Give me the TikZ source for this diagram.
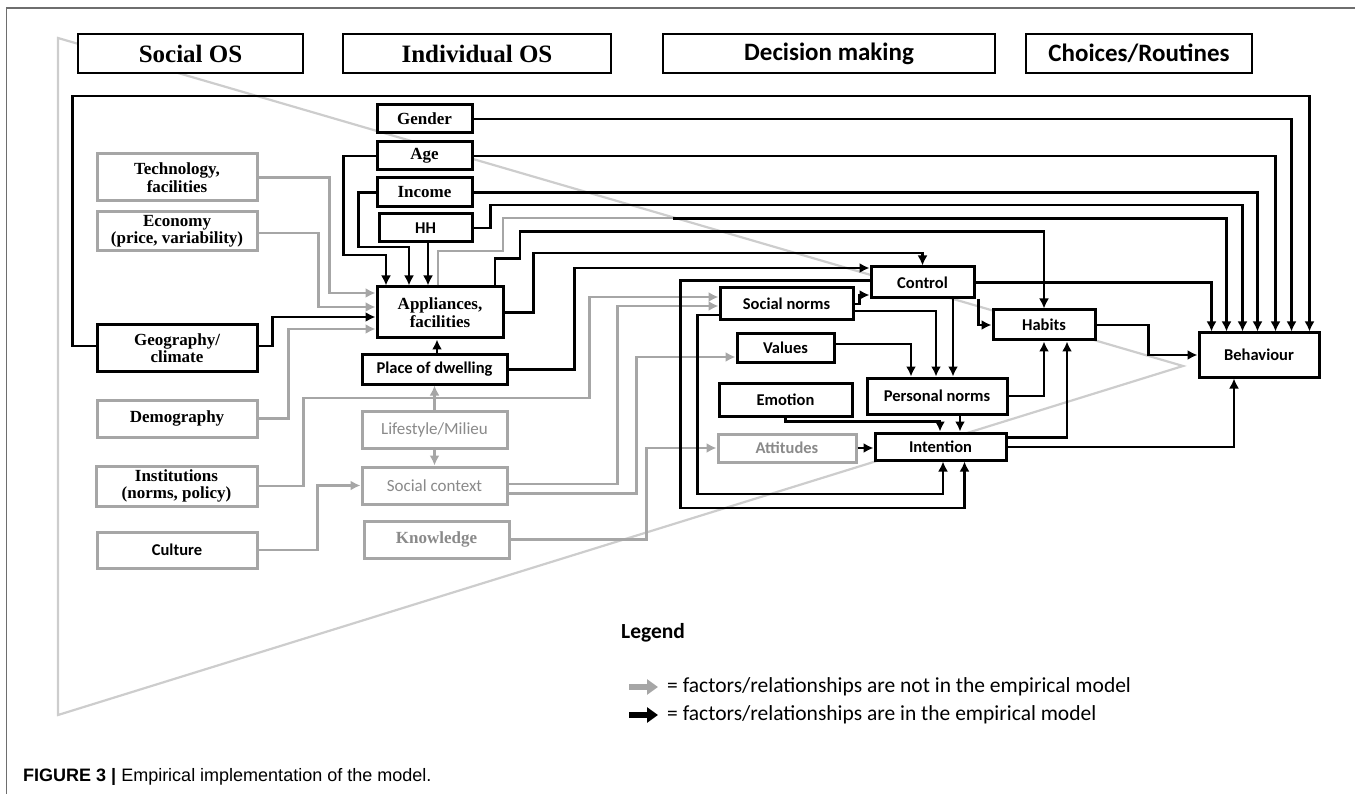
\documentclass[tikz,border=0pt]{standalone}
\usepackage{fontspec}
\setmainfont{Liberation Serif}
\newfontfamily\calfont{Carlito}
\newfontfamily\helvfont{Liberation Sans}
\usetikzlibrary{arrows.meta,calc}
\definecolor{gline}{HTML}{A6A6A6}
\definecolor{tricol}{HTML}{CDCDCD}
\definecolor{gtext}{HTML}{8A8A8A}
\definecolor{framecol}{HTML}{6E6E6E}
\begin{document}
\begin{tikzpicture}[x=1pt,y=-1pt,
  bx/.style={draw=black, line width=3pt, fill=white, inner sep=0pt, align=center},
  gbx/.style={bx, draw=gline},
  sz/.style 2 args={minimum width=#1pt, minimum height=#2pt},
  ser/.style={font=\bfseries\fontsize{17}{17.5}\selectfont},
  san/.style={font=\calfont\bfseries\fontsize{16.5}{18}\selectfont},
  sanr/.style={font=\calfont\fontsize{17}{18}\selectfont},
  hser/.style={font=\bfseries\fontsize{25}{26}\selectfont},
  hsan/.style={font=\calfont\bfseries\fontsize{25}{26}\selectfont},
  hdr/.style={bx, line width=2.7pt},
  arr/.style={draw=black, line width=2.7pt, -{Latex[length=10pt,width=10pt]}},
  garr/.style={draw=gline, line width=2.7pt, -{Latex[length=10pt,width=10pt]}},
  gseg/.style={draw=gline, line width=2pt},
  fat/.style={line width=5.5pt, -{Triangle[length=11pt,width=15pt]}},
  legtxt/.style={font=\calfont\fontsize{21.5}{24}\selectfont, anchor=west, inner sep=0pt},
]
\useasboundingbox (0,0) rectangle (1355,794);
% frame
\draw[framecol, line width=1.6pt] (6.5,794) -- (6.5,8) -- (1355,8);
% background triangle
\draw[tricol, line width=2.2pt, line join=miter] (58,38) -- (1183,366) -- (58,715) -- cycle;

% headers
\node[hdr, sz={225}{39}, hser] (hso) at (190.5,53.5) {Social OS};
\node[hdr, sz={268}{39}, hser] (hio) at (477,53.5) {Individual OS};
\node[hdr, sz={332}{39}, hsan] (hdm) at (829,53.5) {Decision making};
\node[hdr, sz={226}{39}, hsan] (hcr) at (1139,53.5) {Choices/Routines};

% social OS column
\node[gbx, sz={160}{47}, ser] (tech) at (177,177.5) {Technology,\\facilities};
\node[gbx, sz={160}{39}, ser] (econ) at (177,231.5) {Economy\\(price, variability)};
\node[bx, sz={160}{46}, ser] (geo) at (177,348) {Geography/\\climate};
\node[gbx, sz={160}{37}, ser] (demo) at (177,418.5) {Demography};
\node[gbx, sz={161}{40}, ser] (inst) at (176.5,486) {Institutions\\(norms, policy)};
\node[gbx, sz={160}{36}, san] (cult) at (177,550) {Culture};

% individual OS column
\node[bx, sz={95}{28}, ser] (gender) at (424.5,119) {Gender};
\node[bx, sz={95}{28}, ser] (age) at (424.5,156) {Age};
\node[bx, sz={95}{29}, ser] (income) at (424.5,192.5) {Income};
\node[bx, sz={93}{28}, san] (hh) at (425.5,228) {HH};
\node[bx, sz={126}{51}, font=\bfseries\fontsize{17}{18}\selectfont] (appl) at (440,312.5) {Appliances,\\facilities};
\node[bx, sz={145}{29}, san] (dwell) at (434.5,369.5) {Place of dwelling};
\node[gbx, sz={145}{37}, sanr, text=gtext] (life) at (434.5,429.5) {Lifestyle/Milieu};
\node[gbx, sz={145}{37}, sanr, text=gtext] (soc) at (434.5,485.5) {Social context};
\node[gbx, sz={145}{37}, ser, text=gtext] (know) at (436.5,539.5) {Knowledge};

% decision making
\node[bx, sz={133}{32}, san] (snorm) at (786.5,304) {Social norms};
\node[bx, sz={103}{31}, san] (ctrl) at (922.5,282.5) {Control};
\node[bx, sz={97}{28}, san] (values) at (785.5,348) {Values};
\node[bx, sz={133}{33}, san] (emotion) at (785.5,399.5) {Emotion};
\node[bx, sz={140}{36}, san] (pnorm) at (937,396) {Personal norms};
\node[gbx, sz={138}{28}, san, text=gtext] (att) at (787,448) {Attitudes};
\node[bx, sz={131}{27}, san] (intent) at (940.5,446.5) {Intention};

% choices
\node[bx, sz={102}{30}, san] (habits) at (1044,325) {Habits};
\node[bx, sz={120}{44}, san] (behav) at (1259,355) {Behaviour};

% ---- connectors to Behaviour top
\draw[arr] ([yshift=2pt]geo.west) -- ++(-23,0) -- ++(0,-250) -| ([xshift=112pt]behav.north west);
\draw[arr] (gender.east) -| ([xshift=94pt]behav.north west);
\draw[arr] (age.east) -| ([xshift=78pt]behav.north west);
\draw[arr] (income.east) -| ([xshift=60pt]behav.north west);
\draw[arr] (hh.east) -- ++(17,0) -- ++(0,-23) -| ([xshift=45pt]behav.north west);
\draw[gseg] ([xshift=-2pt]appl.north) -- ++(0,-34) -- ++(65,0) -- ++(0,-33) -- ++(170,0) coordinate (asplit);
\draw[arr] (asplit) -| ([xshift=29pt]behav.north west);
\draw[arr] (ctrl.east) -| ([xshift=14pt]behav.north west);

% appliances outputs
\draw[arr] ([xshift=55pt]appl.north) -- ++(0,-27) -- ++(25,0) -- ++(0,-27) -| (habits.north);
\draw[arr] (appl.east) -- ++(29,0) -- ++(0,-59.5) -| (ctrl.north);
\draw[arr] (dwell.east) -- ++(66,0) |- ([yshift=14.5pt]ctrl.west);

% appliances inputs
\draw[arr] (age.west) -- ++(-32,0) -- ++(0,99) -| ([xshift=-54pt]appl.north);
\draw[arr] (income.west) -- ++(-17,0) -- ++(0,54.5) -| ([xshift=-31pt]appl.north);
\draw[arr] ([xshift=2.5pt]hh.south) -- ([xshift=-12pt]appl.north);
\draw[arr] ([xshift=2.5pt]dwell.north) -- ([xshift=-3pt]appl.south);
\draw[garr] (tech.east) -- ++(71,0) |- ([yshift=19.5pt]appl.west);
\draw[garr] ([yshift=-1.5pt]econ.east) -- ++(60,0) |- ([yshift=5.5pt]appl.west);
\draw[arr] ([yshift=2pt]geo.east) -- ++(14,0) |- ([yshift=-4.5pt]appl.west);
\draw[garr] (demo.east) -- ++(30,0) |- ([yshift=-16.5pt]appl.west);

% gray social paths
\draw[garr] (inst.east) -- ++(45,0) -- ++(0,-88) -- ++(286,0) |- ([yshift=7pt]snorm.west);
\draw[garr] ([yshift=1.5pt]soc.east) -- ++(109,0) |- ([yshift=-2pt]snorm.west);
\draw[garr] ([yshift=-8pt]soc.east) -- ++(128,0) |- ([yshift=-9pt]values.west);
\draw[garr] (know.east) -- ++(136,0) |- (att.west);
\draw[garr] (cult.east) -- ++(59,0) |- (soc.west);
\draw[garr] (life.north) -- (dwell.south);
\draw[garr] (life.south) -- (soc.north);

% decision making
\draw[arr] (snorm.east) -- ++(5,0) |- ([yshift=-12.5pt]ctrl.west);
\draw[arr] ([yshift=2pt]ctrl.west) -- ++(-189,0) -- ++(0,227.5) -| ([xshift=24pt]intent.south);
\draw[arr] ([yshift=-11pt]snorm.west) -- ++(-21,0) -- ++(0,179) -| ([xshift=2.5pt]intent.south);
\draw[arr] ([yshift=4pt]values.east) -| ([xshift=-26pt]pnorm.north);
\draw[arr] ([yshift=-7pt]snorm.east) -| ([xshift=-1pt]pnorm.north);
\draw[arr] ([xshift=30.5pt]ctrl.south) -- ([xshift=16pt]pnorm.north);
\draw[arr] ([xshift=3pt]ctrl.south east) |- (habits.west);
\draw[arr] ([xshift=23pt]pnorm.south) -- ([xshift=19.5pt]intent.north);
\draw[arr] (emotion.south) -- ++(0,4) -| ([xshift=-0.5pt]intent.north);
\draw[arr] (att.east) -- (att.east -| intent.west);

% to habits / behaviour
\draw[arr] (pnorm.east) -| (habits.south);
\draw[arr] ([yshift=9pt]intent.east) -| ([xshift=23pt]habits.south);
\draw[arr] ([yshift=-0.5pt]intent.east) -| ([xshift=-25pt]behav.south);
\draw[arr] (habits.east) -- ++(52,0) |- (behav.west);

% legend
\node[font=\calfont\bfseries\fontsize{21.5}{24}\selectfont, anchor=west, inner sep=0pt] (legt) at (621,633) {Legend};
\coordinate (lga) at (629,687);
\coordinate (lgb) at (629,715);
\draw[fat, gline] (lga) -- ++(29,0) coordinate (lgae);
\draw[fat, black] (lgb) -- ++(29,0) coordinate (lgbe);
\node[legtxt] (lg1) at (667,687) {= factors/relationships are not in the empirical model};
\node[legtxt] (lg2) at (667,715) {= factors/relationships are in the empirical model};

% caption
\node[anchor=west, inner sep=0pt, font=\helvfont\fontsize{18}{20}\selectfont] (cap) at (23,777) {\textbf{FIGURE 3 |} Empirical implementation of the model.};
\end{tikzpicture}
\end{document}
